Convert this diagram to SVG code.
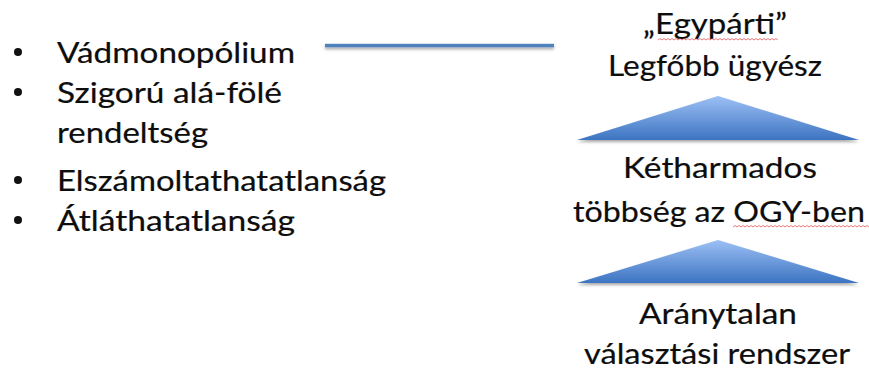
<svg xmlns="http://www.w3.org/2000/svg" width="869" height="370" viewBox="0 0 869 370">
<style>
.t{font-family:Lato,"Open Sans","Liberation Sans",sans-serif;font-size:29px;fill:#0d0d0d;stroke:#0d0d0d;stroke-width:0.2px;}
.c{text-anchor:middle;}
.sq{fill:none;stroke:#e04040;stroke-width:1;opacity:0.7;}
</style>
<defs>
<linearGradient id="g" x1="0" y1="0" x2="0" y2="1">
<stop offset="0" stop-color="#9cc0f4"/>
<stop offset="1" stop-color="#3d74c2"/>
</linearGradient>
<filter id="sh" x="-10%" y="-20%" width="120%" height="160%">
<feDropShadow dx="0" dy="2" stdDeviation="1.5" flood-color="#000" flood-opacity="0.35"/>
</filter>
<filter id="shl" filterUnits="userSpaceOnUse" x="315" y="35" width="250" height="25">
<feDropShadow dx="0" dy="2" stdDeviation="1.5" flood-color="#000" flood-opacity="0.35"/>
</filter>
</defs>
<g id="bullets">
<circle cx="18" cy="52" r="4" fill="#111"/>
<text class="t" x="57" y="63" textLength="238" lengthAdjust="spacingAndGlyphs">Vádmonopólium</text>
<circle cx="18" cy="92" r="4" fill="#111"/>
<text class="t" x="57" y="103" textLength="225" lengthAdjust="spacingAndGlyphs">Szigorú alá-fölé</text>
<text class="t" x="57" y="143" textLength="151" lengthAdjust="spacingAndGlyphs">rendeltség</text>
<circle cx="18" cy="180" r="4" fill="#111"/>
<text class="t" x="57" y="191" textLength="329" lengthAdjust="spacingAndGlyphs">Elszámoltathatatlanság</text>
<circle cx="18" cy="220" r="4" fill="#111"/>
<text class="t" x="57" y="231" textLength="238" lengthAdjust="spacingAndGlyphs">Átláthatatlanság</text>
</g>
<g id="connectors">
<rect x="325" y="43.8" width="229" height="3.5" fill="#4f81bd" filter="url(#shl)"/>
</g>
<g id="node-top">
<text class="t c" x="715" y="34" textLength="144" lengthAdjust="spacingAndGlyphs">„Egypárti”</text>
<path class="sq" d="M658 40 l2 -1.5 l2 1.5 l2 -1.5 l2 1.5 l2 -1.5 l2 1.5 l2 -1.5 l2 1.5 l2 -1.5 l2 1.5 l2 -1.5 l2 1.5 l2 -1.5 l2 1.5 l2 -1.5 l2 1.5 l2 -1.5 l2 1.5 l2 -1.5 l2 1.5 l2 -1.5 l2 1.5 l2 -1.5 l2 1.5 l2 -1.5 l2 1.5 l2 -1.5 l2 1.5 l2 -1.5 l2 1.5 l2 -1.5 l2 1.5 l2 -1.5 l2 1.5 l2 -1.5 l2 1.5 l2 -1.5 l2 1.5 l2 -1.5 l2 1.5 l2 -1.5 l2 1.5 l2 -1.5 l2 1.5 l2 -1.5 l2 1.5 l2 -1.5 l2 1.5 l2 -1.5 l2 1.5 l2 -1.5 l2 1.5 l2 -1.5 l2 1.5 l2 -1.5 l2 1.5 l2 -1.5 l2 1.5 l2 -1.5 l2 1.5"/>
<text class="t c" x="715" y="76" textLength="214" lengthAdjust="spacingAndGlyphs">Legfőbb ügyész</text>
</g>
<g id="triangle-1">
<polygon points="718,96 859,140 577,140" fill="url(#g)" filter="url(#sh)"/>
</g>
<g id="node-middle">
<text class="t c" x="720" y="178" textLength="194" lengthAdjust="spacingAndGlyphs">Kétharmados</text>
<text class="t c" x="719" y="222" textLength="292" lengthAdjust="spacingAndGlyphs">többség az OGY-ben</text>
<path class="sq" d="M733 227 l2 -1.5 l2 1.5 l2 -1.5 l2 1.5 l2 -1.5 l2 1.5 l2 -1.5 l2 1.5 l2 -1.5 l2 1.5 l2 -1.5 l2 1.5 l2 -1.5 l2 1.5 l2 -1.5 l2 1.5 l2 -1.5 l2 1.5 l2 -1.5 l2 1.5 l2 -1.5 l2 1.5 l2 -1.5 l2 1.5 l2 -1.5 l2 1.5 l2 -1.5 l2 1.5 l2 -1.5 l2 1.5 l2 -1.5 l2 1.5 l2 -1.5 l2 1.5 l2 -1.5 l2 1.5 l2 -1.5 l2 1.5 l2 -1.5 l2 1.5 l2 -1.5 l2 1.5 l2 -1.5 l2 1.5 l2 -1.5 l2 1.5 l2 -1.5 l2 1.5 l2 -1.5 l2 1.5 l2 -1.5 l2 1.5 l2 -1.5 l2 1.5 l2 -1.5 l2 1.5 l2 -1.5 l2 1.5 l2 -1.5 l2 1.5 l2 -1.5 l2 1.5 l2 -1.5 l2 1.5 l2 -1.5 l2 1.5 l2 -1.5 l2 1.5 l2 -1.5 l2 1.5"/>
</g>
<g id="triangle-2">
<polygon points="718,240 859,283 577,283" fill="url(#g)" filter="url(#sh)"/>
</g>
<g id="node-bottom">
<text class="t c" x="718" y="324" textLength="158" lengthAdjust="spacingAndGlyphs">Aránytalan</text>
<text class="t c" x="717" y="364" textLength="266" lengthAdjust="spacingAndGlyphs">választási rendszer</text>
</g>
</svg>
